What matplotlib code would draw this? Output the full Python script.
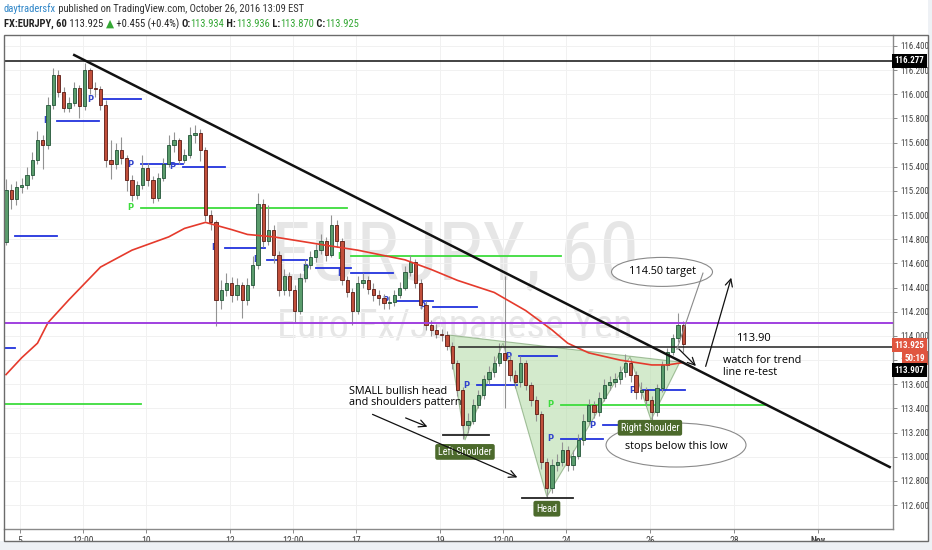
import matplotlib

matplotlib.use("Agg")

import matplotlib.pyplot as plt
import matplotlib.transforms as mtransforms
from matplotlib import font_manager
from matplotlib.patches import Ellipse, Polygon, Rectangle


FIG_W, FIG_H = 932, 550

# x is trading hours since Oct 5 00:00 (one trading day = 24 h).
FIRST_BAR_HOUR = -8
BAR_HOURS = 3
FIRST_OPEN = 114.78

CLOSES = [
    115.21, 115.13, 115.23, 115.25, 115.33, 115.46, 115.62, 115.58, 115.91, 116.16,
    116.02, 115.89, 115.93, 116.05, 115.90, 116.20, 116.05, 116.04, 115.91, 115.46,
    115.42, 115.54, 115.47, 115.29, 115.17, 115.25, 115.39, 115.29, 115.14, 115.31,
    115.42, 115.58, 115.62, 115.46, 115.50, 115.66, 115.68, 115.54, 115.00, 114.94,
    114.30, 114.38, 114.44, 114.34, 114.42, 114.30, 114.42, 114.59, 115.09, 114.79,
    114.88, 114.67, 114.38, 114.50, 114.38, 114.21, 114.48, 114.59, 114.65, 114.71,
    114.79, 114.67, 114.92, 114.79, 114.46, 114.36, 114.21, 114.44, 114.46, 114.39,
    114.34, 114.31, 114.27, 114.28, 114.34, 114.40, 114.53, 114.61, 114.44, 114.26,
    114.09, 114.05, 114.02, 114.01, 113.92, 113.78, 113.55, 113.26, 113.30, 113.43,
    113.51, 113.64, 113.70, 113.78, 113.86, 113.80, 113.68, 113.62, 113.78, 113.59,
    113.47, 113.35, 112.96, 112.74, 112.93, 112.96, 113.06, 112.93, 113.01, 113.14,
    113.30, 113.43, 113.37, 113.49, 113.59, 113.62, 113.64, 113.70, 113.78, 113.68,
    113.54, 113.55, 113.47, 113.37, 113.57, 113.76, 113.87, 113.98, 114.09, 113.93,
]
HIGHS = [
    115.30, 115.26, 115.28, 115.31, 115.40, 115.52, 115.70, 115.66, 115.98, 116.22,
    116.20, 116.06, 115.98, 116.10, 116.08, 116.26, 116.22, 116.10, 116.07, 115.95,
    115.62, 115.60, 115.65, 115.50, 115.33, 115.28, 115.50, 115.43, 115.32, 115.35,
    115.47, 115.66, 115.69, 115.64, 115.55, 115.73, 115.75, 115.71, 115.56, 115.04,
    114.96, 114.46, 114.52, 114.49, 114.48, 114.45, 114.48, 114.66, 115.18, 115.13,
    115.08, 114.92, 114.70, 114.55, 114.53, 114.42, 114.52, 114.64, 114.70, 114.76,
    114.84, 114.82, 115.00, 114.96, 114.81, 114.50, 114.40, 114.50, 114.52, 114.50,
    114.44, 114.38, 114.35, 114.33, 114.38, 114.45, 114.58, 114.67, 114.64, 114.47,
    114.29, 114.13, 114.10, 114.06, 114.04, 113.95, 113.80, 113.58, 113.36, 113.48,
    113.55, 113.68, 113.75, 113.83, 113.94, 114.50, 113.84, 113.72, 113.83, 113.80,
    113.62, 113.50, 113.38, 112.99, 112.98, 113.02, 113.12, 113.09, 113.06, 113.19,
    113.35, 113.48, 113.46, 113.54, 113.64, 113.67, 113.69, 113.75, 113.85, 113.81,
    113.71, 113.62, 113.58, 113.50, 113.60, 113.79, 113.90, 114.02, 114.19, 114.12,
]
LOWS = [
    114.75, 115.05, 115.08, 115.18, 115.22, 115.30, 115.42, 115.38, 115.55, 115.88,
    115.98, 115.85, 115.85, 115.90, 115.80, 115.87, 116.00, 115.98, 115.87, 115.40,
    115.30, 115.38, 115.42, 115.20, 115.12, 115.13, 115.22, 115.24, 115.10, 115.12,
    115.28, 115.40, 115.52, 115.42, 115.43, 115.47, 115.60, 115.45, 114.95, 114.88,
    114.08, 114.22, 114.33, 114.28, 114.30, 114.15, 114.26, 114.40, 114.55, 114.74,
    114.75, 114.60, 114.33, 114.34, 114.33, 114.11, 114.18, 114.45, 114.55, 114.61,
    114.68, 114.62, 114.65, 114.74, 114.42, 114.32, 114.09, 114.18, 114.40, 114.35,
    114.29, 114.26, 114.22, 114.22, 114.25, 114.31, 114.38, 114.50, 114.40, 114.22,
    114.05, 114.00, 113.98, 113.96, 113.88, 113.73, 113.50, 113.15, 113.20, 113.27,
    113.40, 113.48, 113.60, 113.66, 113.75, 113.40, 113.63, 113.57, 113.58, 113.55,
    113.42, 113.30, 112.90, 112.66, 112.70, 112.88, 112.92, 112.88, 112.89, 112.98,
    113.10, 113.27, 113.32, 113.34, 113.46, 113.55, 113.58, 113.60, 113.66, 113.62,
    113.48, 113.48, 113.42, 113.30, 113.34, 113.54, 113.72, 113.84, 113.95, 113.87,
]

# red moving average, read at a subset of bars
MA_BARS = [0, 3, 6, 8, 12, 18, 24, 31, 34, 38, 43, 46, 51, 61, 67, 76, 81, 86,
           93, 99, 104, 107, 111, 114, 117, 120, 123, 126, 129]
MA_VALUES = [113.68, 113.82, 113.94, 114.11, 114.30, 114.57, 114.71, 114.82,
             114.89, 114.94, 114.88, 114.84, 114.82, 114.75, 114.71, 114.63,
             114.55, 114.46, 114.36, 114.21, 114.05, 113.94, 113.86, 113.83,
             113.80, 113.78, 113.76, 113.76, 113.78]

PRICE_TICKS = [112.6, 112.8, 113.0, 113.2, 113.4, 113.6, 113.8, 114.0, 114.2,
               114.4, 114.6, 114.8, 115.0, 115.2, 115.4, 115.6, 115.8, 116.0,
               116.2, 116.4]
TIME_TICKS = [0, 36, 72, 120, 156, 192, 240, 276, 312, 360, 408, 456]
TIME_LABELS = ["5", "12:00", "10", "12", "12:00", "17", "19", "12:00", "24",
               "26", "28", "Nov"]

# drawings on the chart
RESISTANCE = 116.277
PURPLE_LEVEL = 114.107
NECK_LEVEL = 113.907
NECK_START = 251
LAST_PRICE = 113.925
TREND_HOURS = [31, 497]
TREND_PRICES = [116.325, 112.915]

# (start hour, end hour, price)
BLUE_PIVOTS = [
    (-9, -3, 113.90), (-3, 21, 114.83), (21, 45, 115.78), (46, 69, 115.96),
    (69, 93, 115.42), (93, 117, 115.40), (117, 140, 114.73), (141, 164, 114.63),
    (169, 189, 114.56), (189, 213, 114.52), (215, 236, 114.29), (236, 261, 114.24),
    (261, 284, 113.59), (285, 307, 113.83), (309, 333, 113.15), (333, 342, 113.26),
    (356, 380, 113.55),
]
GREEN_PIVOTS = [(-9, 69, 113.44), (69, 187, 115.06), (189, 309, 114.66),
                (309, 426, 113.43)]

HS_HOURS = [244.6, 254.3, 276.0, 301.1, 348.6, 360.6, 377.1]
HS_PRICES = [114.008, 113.138, 113.941, 112.67, 113.826, 113.304, 113.784]
SHOULDER_MARKS = [(242, 268, 113.18), (287, 316, 112.66)]

X_LIMITS = (-9.14, 498.9)
Y_LIMITS = (112.402, 116.491)


available_fonts = {f.name for f in font_manager.fontManager.ttflist}


def pick_font(*names: str) -> str:
    for name in names:
        if name in available_fonts:
            return name
    return "DejaVu Sans"


NARROW = pick_font("Liberation Sans Narrow", "Roboto Condensed", "Liberation Sans")
IS_NARROW = NARROW != "Liberation Sans"
TEXT_FONT = pick_font("Open Sans", "Liberation Sans")


def draw_segments(fig, x_px, y_px, segments, size):
    """Draw a row of differently styled text pieces one after another."""

    renderer = fig.canvas.get_renderer()
    x = x_px
    for text, color, weight in segments:
        piece = fig.text(
            x / FIG_W,
            1 - y_px / FIG_H,
            text,
            color=color,
            fontsize=size,
            fontweight=weight,
            family=[NARROW, "DejaVu Sans"],
            ha="left",
            va="center",
        )
        x += piece.get_window_extent(renderer=renderer).width


def px_box(left, top, right, bottom):
    return [left / FIG_W, 1 - bottom / FIG_H, (right - left) / FIG_W, (bottom - top) / FIG_H]


fig = plt.figure(figsize=(FIG_W / 100, FIG_H / 100), dpi=100, facecolor="white")

# light grey margins and the outer chart frame
fig.add_artist(Rectangle((0, 0), 1, 9 / FIG_H, transform=fig.transFigure,
                         facecolor="#eef1f5", edgecolor="none"))
fig.add_artist(Rectangle((928 / FIG_W, 0), 4 / FIG_W, 1, transform=fig.transFigure,
                         facecolor="#eef1f5", edgecolor="none"))
fig.add_artist(Rectangle((4 / FIG_W, 9 / FIG_H), 924 / FIG_W, 506 / FIG_H,
                         transform=fig.transFigure, fill=False,
                         edgecolor="#6b6b6b", linewidth=1.0, zorder=10))

ax = fig.add_axes(px_box(4, 35, 893, 529))
ax.set_xlim(*X_LIMITS)
ax.set_ylim(*Y_LIMITS)

for side in ("top", "left"):
    ax.spines[side].set_visible(False)
for side in ("right", "bottom"):
    ax.spines[side].set_color("#8a8a8a")
    ax.spines[side].set_linewidth(1.0)

ax.yaxis.tick_right()
ax.set_yticks(PRICE_TICKS)
ax.set_yticklabels([f"{p:.3f}" for p in PRICE_TICKS])
ax.set_xticks(TIME_TICKS)
ax.set_xticklabels(TIME_LABELS)
ax.xaxis.get_ticklabels()[-1].set_fontweight("bold")
tick_size = 6.5 if IS_NARROW else 5.8
ax.tick_params(axis="y", length=3, width=0.7, color="#8a8a8a", pad=2,
               labelsize=tick_size, labelcolor="#454545")
ax.tick_params(axis="x", length=3, width=0.7, color="#8a8a8a", pad=2,
               labelsize=tick_size + 0.5, labelcolor="#454545")
for label in ax.get_xticklabels() + ax.get_yticklabels():
    label.set_family(NARROW)
ax.grid(True, color="#f1f1f1", linewidth=0.7)
ax.set_axisbelow(True)

# watermark
mark_size = 58 if IS_NARROW else 48
ax.text(0.507, 0.549, "EURJPY, 60", transform=ax.transAxes, family=NARROW,
        fontsize=mark_size, color="#e6e6e6", ha="center", va="center", zorder=0)
ax.text(0.507, 0.409, "Euro Fx/Japanese Yen", transform=ax.transAxes,
        family=NARROW, fontsize=mark_size * 0.5, color="#e6e6e6",
        ha="center", va="center", zorder=0)

# head and shoulders area
ax.add_patch(Polygon(list(zip(HS_HOURS, HS_PRICES)), closed=True,
                     facecolor="#b6dcaa", edgecolor="#6f9964", alpha=0.6,
                     linewidth=0.8, zorder=1))

# pivot levels
for start, end, price in GREEN_PIVOTS:
    ax.plot([start, end], [price, price], color="#3ddc3d", linewidth=1.3, zorder=2)
    if start > 0:
        ax.text(start - 6, price, "P", color="#3ddc3d", fontsize=6,
                fontweight="bold", ha="center", va="center", zorder=2)
for start, end, price in BLUE_PIVOTS:
    ax.plot([start, end], [price, price], color="#2233dd", linewidth=1.3, zorder=2)
    if start > 0:
        ax.text(start - 6, price, "P", color="#3344cc", fontsize=6,
                fontweight="bold", ha="center", va="center", zorder=2)

# candles (FX bars open at the prior close)
opens = [FIRST_OPEN] + CLOSES[:-1]
hours = [FIRST_BAR_HOUR + BAR_HOURS * i for i in range(len(CLOSES))]
ax.vlines(hours, LOWS, HIGHS, color="#939393", linewidth=0.8, zorder=3)
for rising, face, edge in ((True, "#5a9c6c", "#225437"), (False, "#c14f3b", "#5b1a13")):
    xs, bottoms, heights = [], [], []
    for h, o, c in zip(hours, opens, CLOSES):
        if (c >= o) == rising:
            xs.append(h)
            bottoms.append(min(o, c))
            heights.append(max(abs(c - o), 0.004))
    ax.bar(xs, heights, width=1.9, bottom=bottoms, color=face, edgecolor=edge,
           linewidth=0.6, zorder=4)

# moving average
ma_hours = [FIRST_BAR_HOUR + BAR_HOURS * i for i in MA_BARS]
ax.plot(ma_hours, MA_VALUES, color="#e53a2c", linewidth=1.2, zorder=5)

# horizontal levels and trend line
ax.axhline(RESISTANCE, color="#222222", linewidth=1.2, zorder=5)
ax.axhline(PURPLE_LEVEL, color="#a040e0", linewidth=1.4, zorder=5)
ax.plot([NECK_START, X_LIMITS[1]], [NECK_LEVEL, NECK_LEVEL], color="#222222",
        linewidth=1.1, zorder=5)
ax.plot(TREND_HOURS, TREND_PRICES, color="#111111", linewidth=1.8, zorder=6)
for start, end, price in SHOULDER_MARKS:
    ax.plot([start, end], [price, price], color="#222222", linewidth=1.3, zorder=6)

# shoulder / head tags
tag_style = dict(boxstyle="round,pad=0.28,rounding_size=0.2", facecolor="#4c6a2c",
                 edgecolor="none")
for text, x, y in (("Left Shoulder", 254.3, 113.04), ("Head", 301.1, 112.57),
                   ("Right Shoulder", 360.0, 113.24)):
    ax.text(x, y, text, color="white", fontsize=7.4 if IS_NARROW else 6.4,
            family=NARROW, ha="center", va="center", bbox=tag_style, zorder=8)

# callouts
ax.add_patch(Ellipse((366.9, 114.53), 57.7, 0.24, facecolor="white",
                     edgecolor="#8a8a8a", linewidth=0.8, zorder=7))
ax.text(366.9, 114.53, "114.50 target", family=TEXT_FONT, fontsize=7.8,
        ha="center", va="center", zorder=8)
ax.plot([390.3, 375.4], [114.52, 113.89], color="#8a8a8a", linewidth=0.8, zorder=7)
ax.add_patch(Ellipse((374.9, 113.097), 80, 0.364, facecolor="white",
                     edgecolor="#8a8a8a", linewidth=0.8, zorder=7))
ax.text(374.9, 113.085, "stops below this low", family=TEXT_FONT, fontsize=7.8,
        ha="center", va="center", zorder=8)

ax.text(419.4, 113.975, "113.90", family=TEXT_FONT, fontsize=8, ha="center",
        va="center", zorder=8)
ax.text(401.7, 113.84, "watch for trend\nline re-test", family=TEXT_FONT,
        fontsize=7.8, ha="left", va="top", linespacing=1.05, zorder=8)
ax.text(188, 113.585, "SMALL bullish head\nand shoulders pattern", family=TEXT_FONT,
        fontsize=7.8, ha="left", va="top", linespacing=1.05, zorder=8)

arrow_style = dict(arrowstyle="->", color="#111111", linewidth=0.9, mutation_scale=13)
for start, end in (((375.4, 113.908), (387.4, 113.735)),
                   ((391.4, 113.726), (406.9, 114.504)),
                   ((218.9, 113.33), (234.3, 113.24)),
                   ((200.0, 113.36), (285.7, 112.82))):
    ax.annotate("", xy=end, xytext=start, arrowprops=arrow_style, zorder=8)

# price tags on the right scale
scale = mtransforms.blended_transform_factory(ax.transAxes, ax.transData)
tag_size = 6.5 if IS_NARROW else 5.8
for text, price, x, face in (("116.277", RESISTANCE, 1.002, "black"),
                             ("113.925", LAST_PRICE, 1.002, "#e0553f"),
                             ("50:19", 113.817, 1.013, "#e0553f"),
                             ("113.907", 113.717, 1.002, "black")):
    ax.text(x, price, text, transform=scale, color="white", fontsize=tag_size,
            fontweight="bold", family=NARROW, ha="left", va="center",
            bbox=dict(boxstyle="square,pad=0.3", facecolor=face, edgecolor="none"),
            clip_on=False, zorder=9)

# header
header_size = 7.6 if IS_NARROW else 6.5
draw_segments(fig, 4, 9, [
    ("daytradersfx", "#2f86c8", "normal"),
    (" published on TradingView.com, October 26, 2016 13:09 EST", "#333333", "normal"),
], header_size)
green = "#35a835"
draw_segments(fig, 4, 24, [
    ("FX:EURJPY, 60", "#222222", "bold"),
    (" 113.925 ", "#222222", "normal"),
    ("\u25B2", green, "normal"),
    (" +0.455 (+0.4%) ", "#222222", "normal"),
    ("O:", "#222222", "bold"), ("113.934", green, "normal"),
    (" H:", "#222222", "bold"), ("113.936", green, "normal"),
    (" L:", "#222222", "bold"), ("113.870", green, "normal"),
    (" C:", "#222222", "bold"), ("113.925", green, "normal"),
], header_size)

fig.savefig("out.png", dpi=100)
